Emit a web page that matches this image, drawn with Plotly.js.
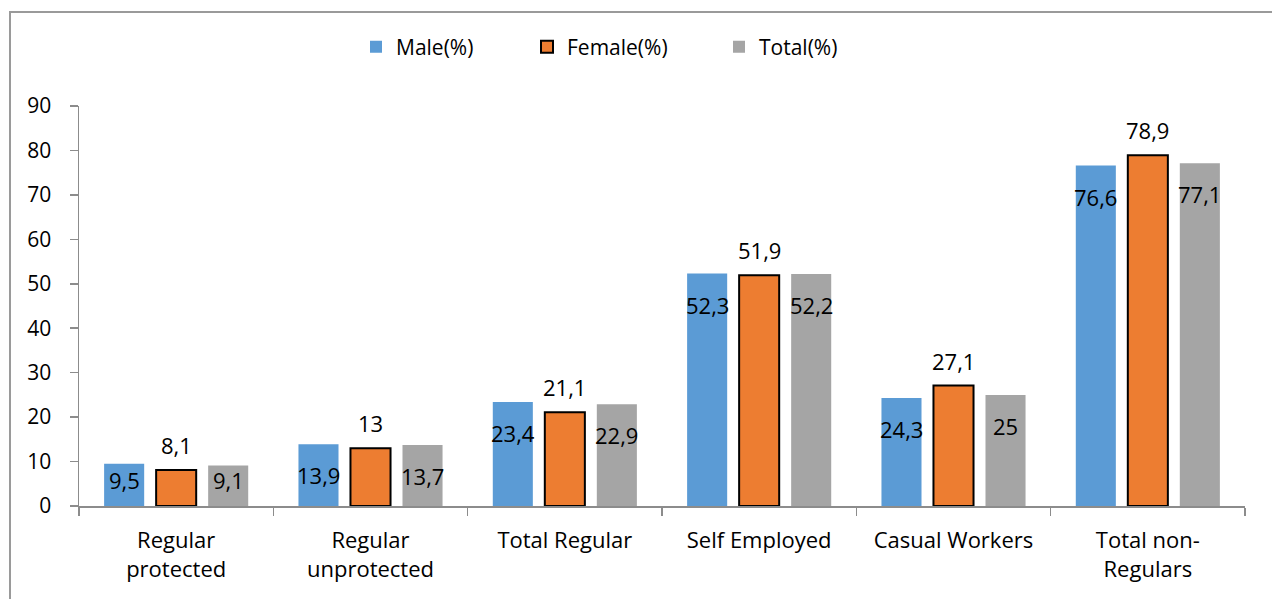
<!DOCTYPE html>
<html>
<head>
<meta charset="utf-8">
<script src="https://cdn.plot.ly/plotly-3.0.1.min.js"></script>
<style>
  html, body { margin: 0; padding: 0; background: #fff; }
  #chart { width: 1272px; height: 599px; }
</style>
</head>
<body>
<div id="chart"></div>
<script>
// ---- data ----
const categories = ["Regular protected", "Regular unprotected", "Total Regular", "Self Employed", "Casual Workers", "Total non-Regulars"];
const tickLabels = ["Regular<br>protected", "Regular<br>unprotected", "Total Regular", "Self Employed", "Casual Workers", "Total non-<br>Regulars"];
const male = [9.5, 13.9, 23.4, 52.3, 24.3, 76.6];
const female = [8.1, 13, 21.1, 51.9, 27.1, 78.9];
const total = [9.1, 13.7, 22.9, 52.2, 25, 77.1];
const seriesNames = ["Male(%)", "Female(%)", "Total(%)"];

// ---- style ----
const FONT = "'Open Sans', sans-serif";
const FS = 21;
const FS_CAT = 22;
const FS_LBL = 22;
const colors = ["#5B9BD5", "#ED7D31", "#A5A5A5"];
const series = [male, female, total];
const legendIds = ['legend', 'legend2', 'legend3'];

const fmt = v => String(v).replace('.', ',');

const traces = series.map((vals, k) => ({
  type: 'bar',
  name: seriesNames[k],
  x: categories,
  y: vals,
  legend: legendIds[k],
  marker: {
    color: colors[k],
    line: k === 1 ? {color: '#000', width: 2} : {width: 0}
  },
  hoverinfo: 'x+y'
}));

const L = 79, R = 27, T = 106, B = 93, W = 1272, H = 599;
const pw = W - L - R, ph = H - T - B;
const px = p => (p - L) / pw;
const py = p => (H - B - p) / ph;

// label placement: female outside end, others inside end
const yMax = 90;
const annotations = [];
const shifts = [-52, 0, 52];
series.forEach((vals, k) => {
  vals.forEach((v, i) => {
    let ys;
    if (k === 1) ys = 25;
    else {
      const hpx = v / yMax * ph;
      ys = -Math.min(31, hpx - 26);
    }
    annotations.push({
      x: categories[i], y: v, xref: 'x', yref: 'y',
      text: fmt(v), showarrow: false,
      xanchor: 'center', yanchor: 'middle',
      xshift: shifts[k], yshift: ys,
      font: {family: FONT, size: FS_LBL, color: '#000'}
    });
  });
});

const legendLeft = [356, 527, 719];
const mkLegend = left => ({
  orientation: 'h', x: px(left), xanchor: 'left', y: py(47), yanchor: 'middle',
  font: {family: FONT, size: FS, color: '#000'},
  bgcolor: 'rgba(0,0,0,0)', borderwidth: 0
});

const layout = {
  width: W, height: H,
  margin: {l: L, r: R, t: T, b: B, pad: 0},
  paper_bgcolor: '#fff', plot_bgcolor: '#fff',
  font: {family: FONT, size: FS, color: '#000'},
  barmode: 'group',
  bargap: 0.197,
  bargroupgap: 0.23,
  showlegend: true,
  legend: mkLegend(legendLeft[0]),
  legend2: mkLegend(legendLeft[1]),
  legend3: mkLegend(legendLeft[2]),
  xaxis: {
    type: 'category',
    tickvals: categories, ticktext: tickLabels,
    showline: true, linecolor: '#8c8c8c', linewidth: 1.5,
    ticks: 'outside', tickson: 'boundaries', ticklen: 8, tickcolor: '#8c8c8c', tickwidth: 1.5,
    showgrid: false, zeroline: false,
    tickfont: {family: FONT, size: FS_CAT, color: '#000'},
    ticklabelstandoff: 14
  },
  yaxis: {
    range: [0, 90], dtick: 10, tick0: 0,
    showline: true, linecolor: '#8c8c8c', linewidth: 1.5,
    ticks: 'outside', ticklen: 8, tickcolor: '#8c8c8c', tickwidth: 1.5,
    showgrid: false, zeroline: false,
    tickfont: {family: FONT, size: FS, color: '#000'},
    ticklabelstandoff: 14
  },
  annotations: annotations,
  shapes: [{
    type: 'rect', xref: 'paper', yref: 'paper',
    x0: px(10), x1: px(1290), y0: py(620), y1: py(12),
    line: {color: '#9a9a9a', width: 2}, fillcolor: 'rgba(0,0,0,0)', layer: 'above'
  }]
};

Plotly.newPlot('chart', traces, layout, {displayModeBar: false, staticPlot: true});
</script>
</body>
</html>
